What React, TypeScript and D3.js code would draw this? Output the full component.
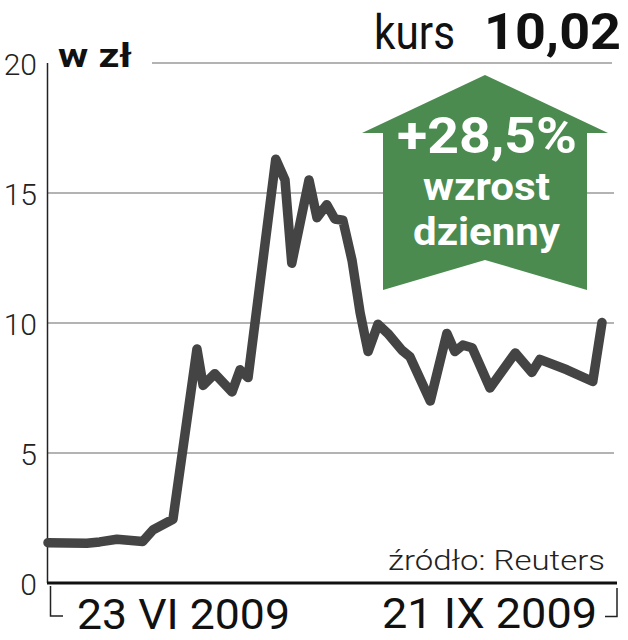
import React from "react";
import * as d3 from "d3";

// trading record: day offset from 23 VI 2009 and closing price (zł)
const dayOffsets = [0, 6.3, 8.4, 11.2, 15.4, 17.1, 20.3, 24.2, 25.2, 27.1, 29.9, 31.2, 32.5, 37.0, 38.5, 39.6, 42.4, 43.7, 45.3, 46.6, 47.9, 49.4, 50.7, 52.0, 53.6, 55.2, 57.5, 58.8, 62.1, 64.8, 66.1, 67.4, 68.9, 71.8, 75.9, 78.6, 79.9, 84.3, 88.5, 90.0];
const prices = [1.55, 1.53, 1.58, 1.68, 1.6, 2.05, 2.45, 9.0, 7.6, 8.05, 7.35, 8.2, 7.9, 16.3, 15.5, 12.3, 15.5, 14.05, 14.55, 14.0, 13.95, 12.4, 10.4, 8.9, 9.95, 9.6, 8.95, 8.7, 7.0, 9.6, 8.9, 9.15, 9.05, 7.5, 8.85, 8.1, 8.6, 8.2, 7.75, 10.02];
const yTicks = [0, 5, 10, 15, 20];
const xLabels = ["23 VI 2009", "21 IX 2009"];
const unitLabel = "w zł";
const kursLabel = "kurs";
const kursValue = "10,02";
const changeLabel = "+28,5%";
const changeText = ["wzrost", "dzienny"];
const sourceLabel = "źródło: Reuters";

const W = 628;
const H = 640;
const FONT = "Roboto, 'Liberation Sans', sans-serif";

export default function App() {
  const x = d3.scaleLinear().domain([0, 90]).range([48, 602]);
  const y = d3.scaleLinear().domain([0, 20]).range([583, 63]);
  const data = dayOffsets.map((d, i) => ({ d, v: prices[i] }));
  const line = d3
    .line<{ d: number; v: number }>()
    .x((p) => x(p.d))
    .y((p) => y(p.v))
    .curve(d3.curveLinear);

  const arrowPts: [number, number][] = [
    [485, 75],
    [608, 133],
    [587, 133],
    [587, 290],
    [485, 260],
    [383, 290],
    [383, 133],
    [362, 133],
  ];
  const arrowPath = d3.line()(arrowPts) + "Z";

  return (
    <svg
      width={W}
      height={H}
      viewBox={`0 0 ${W} ${H}`}
      style={{ position: "absolute", left: 0, top: 0, display: "block", background: "#fff" }}
      fontFamily={FONT}
    >
      {/* grid lines */}
      {yTicks
        .filter((t) => t > 0)
        .map((t) => (
          <line
            key={t}
            x1={t === 20 ? 152 : x.range()[0]}
            x2={t === 20 ? 612 : 614}
            y1={y(t)}
            y2={y(t)}
            stroke="#9a9a9a"
            strokeWidth={1.6}
          />
        ))}
      {/* y-axis line */}
      <line x1={47.5} x2={47.5} y1={y(20)} y2={y(0)} stroke="#222" strokeWidth={1.5} />
      {/* y tick labels */}
      {yTicks.map((t) => (
        <text
          key={t}
          x={37}
          y={y(t) + 12}
          textAnchor="end"
          fontSize={30}
          fontWeight={300}
          fill="#222"
        >
          {t}
        </text>
      ))}
      {/* price line */}
      <path
        d={line(data) || ""}
        fill="none"
        stroke="#444444"
        strokeWidth={9.5}
        strokeLinejoin="round"
        strokeLinecap="round"
      />
      {/* baseline */}
      <line x1={47} x2={617} y1={y(0)} y2={y(0)} stroke="#111" strokeWidth={3} />
      {/* brackets */}
      <path d="M50.5,586 V616 H63" fill="none" stroke="#222" strokeWidth={1.5} />
      <path d="M605,616.5 H617 V588" fill="none" stroke="#222" strokeWidth={1.5} />
      {/* x labels */}
      <text x={77} y={629} fontSize={42} fill="#111" textLength={213} lengthAdjust="spacingAndGlyphs">
        {xLabels[0]}
      </text>
      <text x={382} y={628} fontSize={42} fill="#111" textLength={215} lengthAdjust="spacingAndGlyphs">
        {xLabels[1]}
      </text>
      {/* unit */}
      <text x={58} y={67} fontSize={34} fontWeight={700} fill="#111" textLength={74} lengthAdjust="spacingAndGlyphs">
        {unitLabel}
      </text>
      {/* header */}
      <text x={374} y={49} fontSize={48} fontWeight={400} fill="#111" textLength={81} lengthAdjust="spacingAndGlyphs">
        {kursLabel}
      </text>
      <text x={484} y={49} fontSize={50} fontWeight={700} fill="#111" textLength={137} lengthAdjust="spacingAndGlyphs">
        {kursValue}
      </text>
      {/* arrow annotation */}
      <path d={arrowPath} fill="#4b8b50" />
      <text x={397} y={153} fontSize={50} fontWeight={700} fill="#fff" textLength={180} lengthAdjust="spacingAndGlyphs">
        {changeLabel}
      </text>
      <text x={423} y={200} fontSize={39} fontWeight={700} fill="#fff" textLength={127} lengthAdjust="spacingAndGlyphs">
        {changeText[0]}
      </text>
      <text x={413} y={245} fontSize={39} fontWeight={700} fill="#fff" textLength={147} lengthAdjust="spacingAndGlyphs">
        {changeText[1]}
      </text>
      {/* source */}
      <text x={388} y={570} fontSize={28} fontWeight={300} fill="#222" textLength={217} lengthAdjust="spacingAndGlyphs">
        {sourceLabel}
      </text>
    </svg>
  );
}
